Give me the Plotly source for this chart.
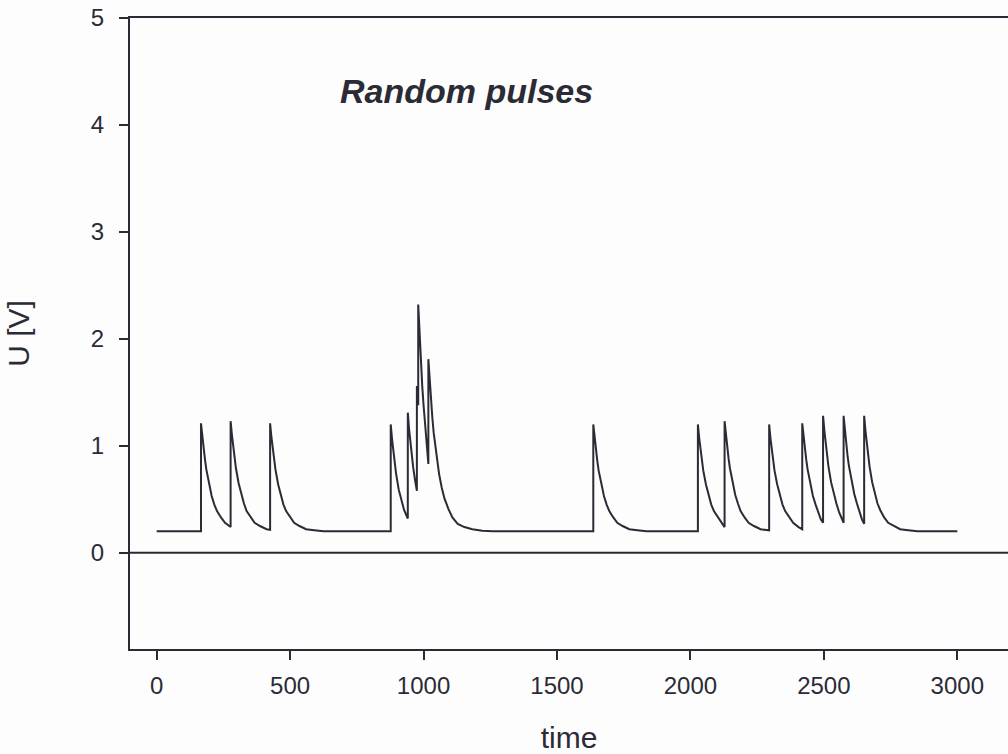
import plotly.graph_objects as go

# Signal (time, voltage)
time = [
    0, 166, 166, 171, 176, 181, 186, 196, 206, 216, 226, 241, 256, 277,
    277, 282, 287, 292, 297, 307, 317, 327, 337, 352, 367, 387, 412, 425,
    425, 430, 435, 440, 445, 455, 465, 475, 485, 500, 515, 535, 560, 590, 625, 877,
    877, 882, 887, 892, 897, 907, 917, 927, 941,
    941, 946, 951, 956, 961, 968, 975,
    975, 980,
    980, 985, 990, 995, 1000, 1006, 1012, 1018,
    1018, 1023, 1028, 1033, 1038, 1048, 1058, 1068, 1078, 1093, 1108, 1128, 1153, 1183, 1220, 1260, 1636,
    1636, 1641, 1646, 1651, 1656, 1666, 1676, 1686, 1696, 1711, 1726, 1746, 1771, 1801, 1836, 2028,
    2028, 2033, 2038, 2043, 2048, 2058, 2068, 2078, 2088, 2103, 2118, 2128,
    2128, 2133, 2138, 2143, 2148, 2158, 2168, 2178, 2188, 2203, 2218, 2238, 2263, 2295,
    2295, 2300, 2305, 2310, 2315, 2325, 2335, 2345, 2355, 2370, 2385, 2405, 2419,
    2419, 2424, 2429, 2434, 2439, 2449, 2459, 2469, 2479, 2489, 2497,
    2497, 2502, 2507, 2512, 2517, 2527, 2537, 2547, 2557, 2566, 2574,
    2574, 2579, 2584, 2589, 2594, 2604, 2614, 2624, 2634, 2643, 2651,
    2651, 2656, 2661, 2666, 2671, 2681, 2691, 2701, 2711, 2726, 2741, 2761, 2786, 2816, 2851, 3000,
]
voltage = [
    0.20, 0.20, 1.21, 1.08, 0.97, 0.87, 0.78, 0.64, 0.53, 0.45, 0.39, 0.33, 0.28, 0.24,
    1.23, 1.10, 0.98, 0.88, 0.79, 0.65, 0.54, 0.46, 0.39, 0.33, 0.28, 0.25, 0.22, 0.215,
    1.21, 1.08, 0.97, 0.87, 0.78, 0.64, 0.53, 0.45, 0.39, 0.33, 0.28, 0.25, 0.22, 0.21, 0.20, 0.20,
    1.20, 1.06, 0.94, 0.83, 0.74, 0.59, 0.48, 0.40, 0.32,
    1.31, 1.15, 1.02, 0.90, 0.80, 0.68, 0.58,
    1.56, 1.38,
    2.32, 2.03, 1.77, 1.56, 1.38, 1.18, 1.00, 0.83,
    1.81, 1.60, 1.42, 1.26, 1.12, 0.90, 0.74, 0.61, 0.51, 0.41, 0.33, 0.27, 0.24, 0.22, 0.205, 0.20, 0.20,
    1.20, 1.07, 0.96, 0.86, 0.77, 0.64, 0.53, 0.45, 0.39, 0.33, 0.28, 0.25, 0.22, 0.21, 0.20, 0.20,
    1.20, 1.07, 0.96, 0.86, 0.77, 0.64, 0.53, 0.45, 0.39, 0.33, 0.27, 0.24,
    1.23, 1.10, 0.98, 0.88, 0.79, 0.65, 0.54, 0.46, 0.39, 0.33, 0.28, 0.25, 0.22, 0.21,
    1.20, 1.07, 0.96, 0.86, 0.77, 0.64, 0.53, 0.45, 0.39, 0.33, 0.28, 0.24, 0.22,
    1.21, 1.08, 0.97, 0.87, 0.78, 0.64, 0.53, 0.45, 0.37, 0.31, 0.28,
    1.28, 1.14, 1.01, 0.90, 0.81, 0.66, 0.55, 0.46, 0.38, 0.33, 0.28,
    1.28, 1.14, 1.01, 0.90, 0.81, 0.66, 0.55, 0.46, 0.38, 0.31, 0.27,
    1.28, 1.14, 1.01, 0.90, 0.81, 0.66, 0.55, 0.46, 0.40, 0.33, 0.28, 0.25, 0.22, 0.21, 0.20, 0.20,
]

x_ticks = [0, 500, 1000, 1500, 2000, 2500, 3000]
y_ticks = [0, 1, 2, 3, 4, 5]
title_text = "Random pulses"
x_title = "time"
y_title = "U [V]"

ink = "#2b2b36"
font_family = "Liberation Sans, Arial, Helvetica, sans-serif"

fig = go.Figure()
fig.add_trace(go.Scatter(
    x=time, y=voltage, mode="lines",
    line=dict(color=ink, width=2), showlegend=False, hoverinfo="skip",
))

fig.add_hline(y=0, line=dict(color=ink, width=2))

fig.add_annotation(
    x=680, y=4.32, xref="x", yref="y", xanchor="left", yanchor="middle",
    text="<b><i>" + title_text + "</i></b>", showarrow=False,
    font=dict(family=font_family, size=34, color=ink),
)

fig.update_layout(
    width=1008, height=754,
    margin=dict(l=130, r=0, t=18, b=105),
    paper_bgcolor="#fdfdfd", plot_bgcolor="#fdfdfd",
    font=dict(family=font_family, color=ink),
)
fig.update_xaxes(
    range=[-100, 3190], tickvals=x_ticks, ticks="outside", ticklen=9, tickwidth=2,
    tickcolor=ink, showline=True, linecolor=ink, linewidth=2, mirror=True,
    showgrid=False, zeroline=False, tickfont=dict(size=24, color=ink),
    ticklabelstandoff=5,
    title=dict(text=x_title, font=dict(size=30, color=ink), standoff=30),
)
fig.update_yaxes(
    range=[-0.9, 5], tickvals=y_ticks, ticks="outside", ticklen=9, tickwidth=2,
    tickcolor=ink, showline=True, linecolor=ink, linewidth=2,
    showgrid=False, zeroline=False, tickfont=dict(size=24, color=ink),
    ticklabelstandoff=10,
    title=dict(text=y_title, font=dict(size=30, color=ink), standoff=52),
)

fig.write_html("out.html")
